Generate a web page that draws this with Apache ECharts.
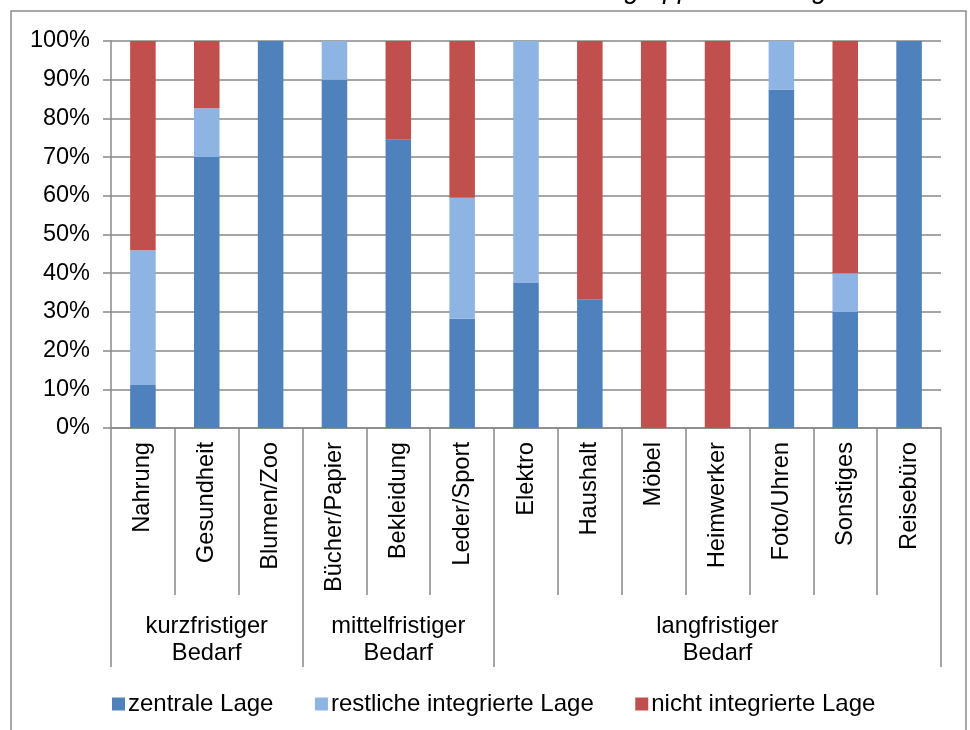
<!DOCTYPE html>
<html>
<head>
<meta charset="utf-8">
<script src="https://cdn.jsdelivr.net/npm/echarts@6/dist/echarts.min.js"></script>
<style>
  html, body { margin: 0; padding: 0; background: #fff; }
  #chart { width: 970px; height: 730px; }
</style>
</head>
<body>
<div id="chart"></div>
<script>
// Branches (inner axis level) and their demand groups (outer level)
const categories = ['Nahrung', 'Gesundheit', 'Blumen/Zoo', 'Bücher/Papier', 'Bekleidung', 'Leder/Sport',
  'Elektro', 'Haushalt', 'Möbel', 'Heimwerker', 'Foto/Uhren', 'Sonstiges', 'Reisebüro'];
const groupLabels = ['', 'kurzfristiger\nBedarf', '', '', 'mittelfristiger\nBedarf', '', '', '', '', 'langfristiger\nBedarf', '', '', ''];
const groupStarts = [0, 3, 6];

// Shares in percent per location type
const zentral = [11.1, 70, 100, 90, 74.5, 28.2, 37.5, 33.3, 0, 0, 87.5, 30, 100];
const restlich = [34.8, 12.6, 0, 10, 0, 31.3, 62.5, 0, 0, 0, 12.5, 10, 0];
const nichtIntegriert = [54.1, 17.4, 0, 0, 25.5, 40.5, 0, 66.7, 100, 100, 0, 60, 0];

const yTicks = { min: 0, max: 100, interval: 10 };

const seriesNames = ['zentrale Lage', 'restliche integrierte Lage', 'nicht integrierte Lage'];
const seriesColors = ['#4F81BD', '#8EB4E3', '#C0504D'];
const seriesData = [zentral, restlich, nichtIntegriert];

const FONT = 'Arial, "Liberation Sans", sans-serif';
const axisGray = '#888888';

const chart = echarts.init(document.getElementById('chart'), null, { renderer: 'canvas' });

chart.setOption({
  backgroundColor: '#ffffff',
  animation: false,
  textStyle: { fontFamily: FONT, color: '#000' },
  graphic: [
    {
      type: 'rect',
      shape: { x: 11, y: 11, width: 955, height: 740 },
      style: { fill: 'none', stroke: '#8c8c8c', lineWidth: 1.5 },
      silent: true
    },
    {
      type: 'text',
      right: 128,
      y: -9,
      style: {
        text: 'Verkaufsfläche nach Warengruppen und Lage',
        font: 'italic 26.8px ' + FONT,
        fill: '#000',
        textVerticalAlign: 'middle'
      },
      silent: true
    }
  ],
  grid: {
    left: 111, right: 29, top: 41, bottom: 302,
    containLabel: false,
    outerBoundsMode: 'none'
  },
  legend: {
    left: 107,
    top: 687,
    itemWidth: 13,
    itemHeight: 13,
    itemGap: 41.5,
    icon: 'rect',
    textStyle: { fontFamily: FONT, fontSize: 24, color: '#000', padding: [0, 0, 0, -2] },
    data: seriesNames
  },
  xAxis: [
    {
      type: 'category',
      data: categories,
      position: 'bottom',
      axisLine: { show: true, lineStyle: { color: axisGray, width: 1.5 } },
      axisTick: { show: true, length: 167, lineStyle: { color: axisGray, width: 1.5 } },
      axisLabel: {
        rotate: 90,
        margin: 14,
        interval: 0,
        fontFamily: FONT,
        fontSize: 23.7,
        color: '#000'
      }
    },
    {
      type: 'category',
      data: groupLabels,
      position: 'bottom',
      offset: 167,
      axisLine: { show: false },
      axisTick: {
        show: true,
        length: 72,
        interval: function (index) { return groupStarts.indexOf(index) >= 0; },
        lineStyle: { color: axisGray, width: 1.5 }
      },
      axisLabel: {
        interval: 0,
        margin: 18,
        fontFamily: FONT,
        fontSize: 23.7,
        lineHeight: 27,
        color: '#000',
        align: 'center'
      }
    }
  ],
  yAxis: {
    type: 'value',
    min: yTicks.min,
    max: yTicks.max,
    interval: yTicks.interval,
    axisLine: { show: true, lineStyle: { color: axisGray, width: 1.5 } },
    axisTick: { show: true, length: 8, lineStyle: { color: axisGray, width: 1.5 } },
    splitLine: { show: true, lineStyle: { color: axisGray, width: 1.5 } },
    axisLabel: {
      formatter: '{value}%',
      margin: 21,
      fontFamily: FONT,
      fontSize: 23.5,
      color: '#000'
    }
  },
  series: seriesNames.map(function (name, i) {
    return {
      name: name,
      type: 'bar',
      stack: 'total',
      xAxisIndex: 0,
      barWidth: '40%',
      data: seriesData[i],
      itemStyle: { color: seriesColors[i] }
    };
  })
});
</script>
</body>
</html>
